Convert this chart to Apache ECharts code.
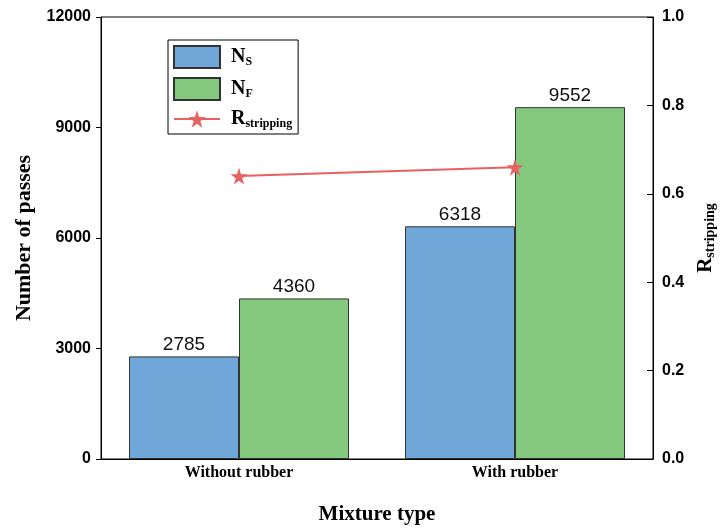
<!DOCTYPE html>
<html>
<head>
<meta charset="utf-8">
<script src="https://cdn.jsdelivr.net/npm/echarts@6/dist/echarts.min.js"></script>
<style>
  html, body { margin: 0; padding: 0; background: #fff; }
  #chart { width: 722px; height: 529px; }
</style>
</head>
<body>
<div id="chart"></div>
<script>
// Mixture types on the category axis
const categories = ['Without rubber', 'With rubber'];
// Number of passes (left axis)
const nsValues = [2785, 6318];
const nfValues = [4360, 9552];
// Stripping ratio (right axis)
const rStripping = [0.64, 0.66];
// Axis ticks
const leftTicks = { min: 0, max: 12000, interval: 3000 };
const rightTicks = { min: 0, max: 1.0, interval: 0.2 };

const SERIF = '"Times New Roman", "Liberation Serif", serif';
const SANS = 'Arial, "Liberation Sans", sans-serif';
const STAR = 'path://M50,0 L61,35 L98,35 L68,57 L79,91 L50,70 L21,91 L32,57 L2,35 L39,35 Z';

const legendRich = {
  b: { fontFamily: SERIF, fontWeight: 'bold', fontSize: 20, color: '#000', padding: [0, 0, 0, 6] },
  s: { fontFamily: SERIF, fontWeight: 'bold', fontSize: 12, color: '#000', padding: [10, 0, 0, 0] }
};
const axisRich = {
  b: { fontFamily: SERIF, fontWeight: 'bold', fontSize: 21, color: '#000' },
  s: { fontFamily: SERIF, fontWeight: 'bold', fontSize: 14, color: '#000', padding: [10, 0, 0, 0] }
};

const legendText = {
  NS: '{b|N}{s|S}',
  NF: '{b|N}{s|F}',
  R: '{b|R}{s|stripping}'
};

const chart = echarts.init(document.getElementById('chart'));
chart.setOption({
  animation: false,
  backgroundColor: '#fff',
  grid: {
    left: 101, right: 69, top: 17, bottom: 70,
    outerBoundsMode: 'none',
    containLabel: false,
    show: true, borderColor: '#000', borderWidth: 1
  },
  legend: {
    orient: 'vertical',
    left: 168, top: 40,
    padding: [5, 6, 4, 5],
    borderColor: '#000', borderWidth: 1,
    itemWidth: 46, itemHeight: 22, itemGap: 8,
    data: [
      { name: 'NS', icon: 'rect' },
      { name: 'NF', icon: 'rect' },
      { name: 'R' }
    ],
    formatter: name => legendText[name],
    textStyle: { rich: legendRich }
  },
  xAxis: {
    type: 'category',
    data: categories,
    axisLine: { lineStyle: { color: '#000', width: 1 } },
    axisTick: { show: false },
    axisLabel: {
      fontFamily: SERIF, fontWeight: 'bold', fontSize: 16, color: '#000', margin: 6
    },
    name: 'Mixture type',
    nameLocation: 'middle',
    nameGap: 45,
    nameTextStyle: { fontFamily: SERIF, fontWeight: 'bold', fontSize: 21, color: '#000' }
  },
  yAxis: [
    {
      type: 'value',
      min: leftTicks.min, max: leftTicks.max, interval: leftTicks.interval,
      axisLine: { show: true, lineStyle: { color: '#000', width: 1 } },
      axisTick: { show: true, length: 5, lineStyle: { color: '#000' } },
      splitLine: { show: false },
      axisLabel: {
        fontFamily: SANS, fontWeight: 'bold', fontSize: 16, color: '#000', margin: 10,
        formatter: v => String(v)
      },
      name: 'Number of passes',
      nameLocation: 'middle',
      nameGap: 56,
      nameRotate: 90,
      nameTextStyle: { fontFamily: SERIF, fontWeight: 'bold', fontSize: 22, color: '#000' }
    },
    {
      type: 'value',
      position: 'right',
      min: rightTicks.min, max: rightTicks.max, interval: rightTicks.interval,
      axisLine: { show: true, lineStyle: { color: '#000', width: 1 } },
      axisTick: { show: true, inside: true, length: 6, lineStyle: { color: '#000' } },
      splitLine: { show: false },
      axisLabel: {
        fontFamily: SANS, fontWeight: 'bold', fontSize: 16, color: '#000', margin: 9,
        formatter: v => v.toFixed(1)
      },
      name: '{b|R}{s|stripping}',
      nameLocation: 'middle',
      nameGap: 34,
      nameRotate: 90,
      nameTextStyle: { rich: axisRich }
    }
  ],
  series: [
    {
      name: 'NS',
      type: 'bar',
      data: nsValues,
      barWidth: 110,
      barGap: '0%',
      itemStyle: { color: '#6FA7D9', borderColor: '#333', borderWidth: 1 },
      label: { show: true, position: 'top', distance: 2, fontFamily: SANS, fontSize: 19, color: '#111' }
    },
    {
      name: 'NF',
      type: 'bar',
      data: nfValues,
      barWidth: 110,
      barGap: '0%',
      itemStyle: { color: '#84C97E', borderColor: '#333', borderWidth: 1 },
      label: { show: true, position: 'top', distance: 2, fontFamily: SANS, fontSize: 19, color: '#111' }
    },
    {
      name: 'R',
      type: 'line',
      yAxisIndex: 1,
      data: rStripping,
      symbol: STAR,
      symbolSize: 17,
      lineStyle: { color: '#E8605F', width: 2 },
      itemStyle: { color: '#E8605F' }
    }
  ]
});
</script>
</body>
</html>
